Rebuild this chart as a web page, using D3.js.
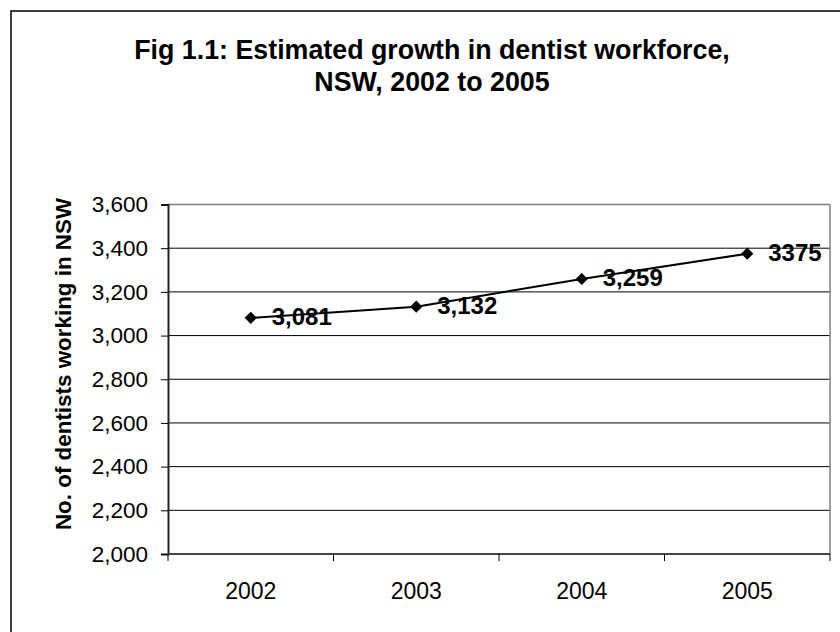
<!DOCTYPE html>
<html>
  <head>
    <meta charset="utf-8">
    <title>Dentist workforce</title>
    <script src="https://cdn.jsdelivr.net/npm/d3@7"></script>
    <style type="text/css">
      body { margin: 0; background: #fff; }
      svg text { font-family: "Liberation Sans", Arial, sans-serif; fill: #000; }
    </style>
  </head>
  <body>
    <script>
      // data
      var years = ["2002", "2003", "2004", "2005"];
      var dentists = [3081, 3132, 3259, 3375];
      var pointLabels = ["3,081", "3,132", "3,259", "3375"];
      var yTicks = [2000, 2200, 2400, 2600, 2800, 3000, 3200, 3400, 3600];
      var titleLines = ["Fig 1.1: Estimated growth in dentist workforce,", "NSW, 2002 to 2005"];

      var w = 840, h = 632;
      // plot area edges (don't use "top" - clashes with window.top)
      var pLeft = 168, pRight = 830, pTop = 204.5, pBottom = 554;

      var svg = d3.select("body").append("svg")
                  .attr("width", w)
                  .attr("height", h);

      // outer frame (runs off the picture on right and bottom)
      svg.append("rect")
         .attr("x", 11).attr("y", 11)
         .attr("width", 900).attr("height", 700)
         .attr("fill", "none")
         .attr("stroke", "#000")
         .attr("stroke-width", 1.5);

      var x = d3.scaleBand().domain(years).range([pLeft, pRight]);
      var y = d3.scaleLinear().domain([2000, 3600]).range([pBottom, pTop]);

      // gridlines
      svg.append("g")
         .selectAll("line")
         .data(yTicks.slice(1))
         .enter().append("line")
         .attr("x1", pLeft).attr("x2", pRight)
         .attr("y1", function(d) { return y(d); })
         .attr("y2", function(d) { return y(d); })
         .attr("stroke", function(d) { return d === 3600 ? "#808080" : "#000"; })
         .attr("stroke-width", function(d) { return d === 3600 ? 1.5 : 1; });

      // right border of plot area
      svg.append("line")
         .attr("x1", pRight).attr("x2", pRight)
         .attr("y1", pTop).attr("y2", pBottom)
         .attr("stroke", "#808080").attr("stroke-width", 1.5);

      // y axis
      var yAxis = svg.append("g")
         .attr("transform", "translate(" + pLeft + ",0)")
         .call(d3.axisLeft(y).tickValues(yTicks).tickSize(7).tickPadding(13)
                 .tickFormat(d3.format(",")));
      yAxis.select(".domain").attr("stroke", "#222").attr("stroke-width", 2);
      yAxis.selectAll(".tick line").attr("stroke", "#000").attr("stroke-width", 1);
      yAxis.selectAll("text").style("font-size", "22.5px");

      // x axis: ticks sit between categories
      var xAxis = svg.append("g")
         .attr("transform", "translate(0," + pBottom + ")");
      xAxis.append("line")
         .attr("x1", pLeft).attr("x2", pRight)
         .attr("stroke", "#444").attr("stroke-width", 2);
      var bounds = years.map(function(d) { return x(d); }).concat([pRight]);
      xAxis.selectAll(".xt")
         .data(bounds)
         .enter().append("line")
         .attr("class", "xt")
         .attr("x1", function(d) { return d; })
         .attr("x2", function(d) { return d; })
         .attr("y1", 0).attr("y2", 7)
         .attr("stroke", "#000").attr("stroke-width", 1);
      xAxis.selectAll(".xl")
         .data(years)
         .enter().append("text")
         .attr("class", "xl")
         .attr("x", function(d) { return x(d) + x.bandwidth() / 2; })
         .attr("y", 45)
         .attr("text-anchor", "middle")
         .style("font-size", "23px")
         .text(function(d) { return d; });

      // the line
      var pts = years.map(function(d, i) { return { year: d, v: dentists[i], label: pointLabels[i] }; });
      var line = d3.line()
          .x(function(d) { return x(d.year) + x.bandwidth() / 2; })
          .y(function(d) { return y(d.v); });

      svg.append("path")
         .datum(pts)
         .attr("d", line)
         .attr("fill", "none")
         .attr("stroke", "#000")
         .attr("stroke-width", 2);

      svg.selectAll(".pt")
         .data(pts)
         .enter().append("path")
         .attr("class", "pt")
         .attr("d", d3.symbol().type(d3.symbolDiamond2).size(95))
         .attr("transform", function(d) {
            return "translate(" + (x(d.year) + x.bandwidth() / 2) + "," + y(d.v) + ")";
         })
         .attr("fill", "#000");

      svg.selectAll(".lbl")
         .data(pts)
         .enter().append("text")
         .attr("class", "lbl")
         .attr("x", function(d) { return x(d.year) + x.bandwidth() / 2 + 21; })
         .attr("y", function(d) { return y(d.v) + 7; })
         .style("font-size", "24px")
         .style("font-weight", "bold")
         .text(function(d) { return d.label; });

      // title
      svg.selectAll(".title")
         .data(titleLines)
         .enter().append("text")
         .attr("class", "title")
         .attr("x", 432)
         .attr("y", function(d, i) { return 59 + i * 32; })
         .attr("text-anchor", "middle")
         .style("font-size", "26.8px")
         .style("font-weight", "bold")
         .text(function(d) { return d; });

      // y axis title
      svg.append("text")
         .attr("transform", "translate(71,364) rotate(-90)")
         .attr("text-anchor", "middle")
         .style("font-size", "22.4px")
         .style("font-weight", "bold")
         .text("No. of dentists working in NSW");
    </script>
  </body>
</html>
